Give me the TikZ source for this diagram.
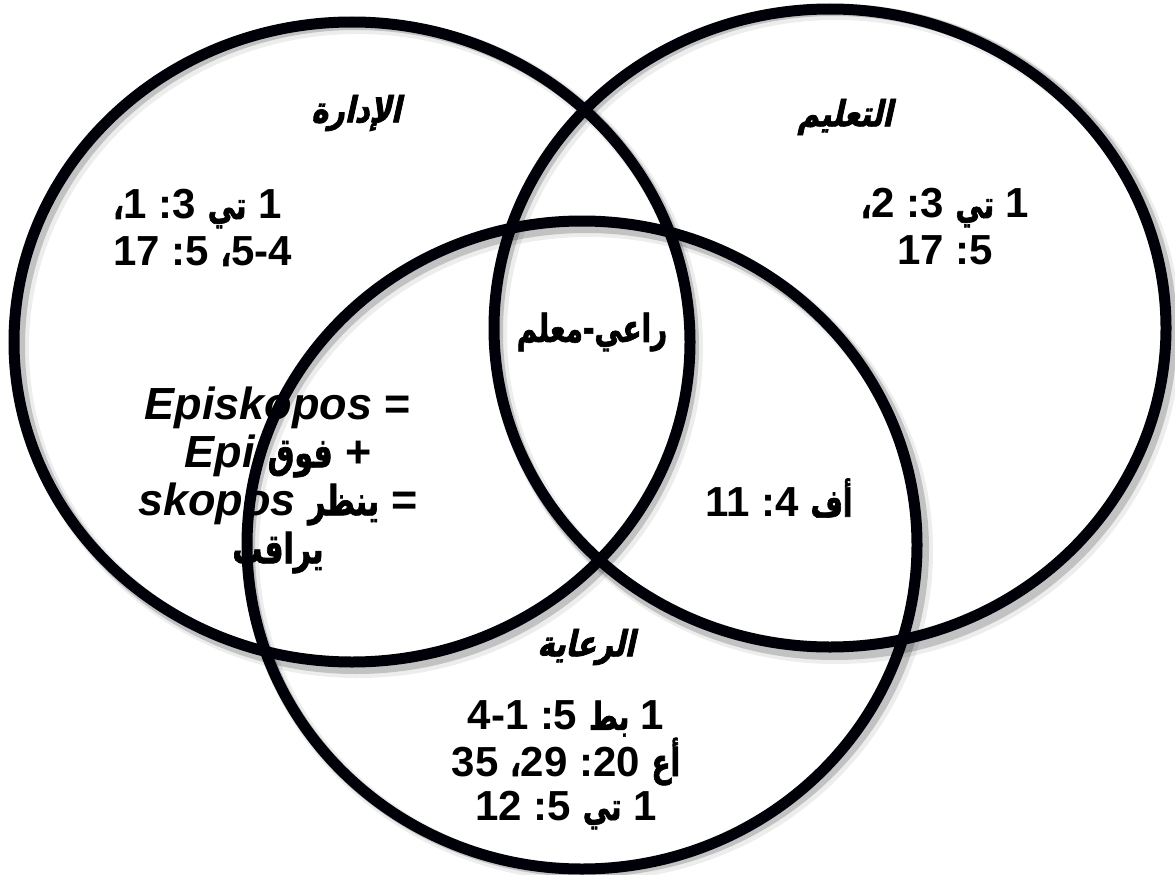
\documentclass[tikz,border=0pt]{standalone}
\usepackage{fontspec}
\setmainfont{Liberation Sans}
\newfontfamily\arabicfont[Script=Arabic,Scale=0.92,FakeStretch=0.72,FakeBold=1.6]{DejaVu Sans}
\newfontfamily\arabicslfont[Script=Arabic,FakeSlant=0.22,FakeStretch=0.8,FakeBold=2.2]{DejaVu Sans}
\TeXXeTstate=1
\newcommand\ar[1]{{\arabicfont\bfseries\beginR #1\endR}}
\newcommand\art[1]{{\arabicslfont\bfseries\beginR #1\endR}}
\begin{document}
\begin{tikzpicture}[x=1pt,y=-1pt,
  every node/.style={inner sep=0pt, text=black},
  reftext/.style={font=\bfseries\fontsize{42}{47}\selectfont, align=center},
  reftextl/.style={font=\bfseries\fontsize{42}{47}\selectfont, align=left},
  episktext/.style={font=\bfseries\fontsize{45}{48}\selectfont, align=center},
  caretext/.style={font=\bfseries\fontsize{42}{44}\selectfont, align=center},
  titletext/.style={font=\bfseries\fontsize{36}{38}\selectfont},
  ring/.style={line width=11pt, draw=black!97!blue},
  ringshadow/.style={line width=12pt, draw=black, opacity=0.18},
  ringshadowb/.style={line width=16pt, draw=black, opacity=0.07}]
\useasboundingbox (0,0) rectangle (1175,875);
\fill[white] (0,0) rectangle (1175,875);

% texts (drawn first: the rings pass over them)
\node[titletext] (tadmin) at (356,113) {\art{الإدارة}};
\node[reftextl, anchor=west] (radmin) at (113,228) {\ar{،}1 :3 \ar{تي} 1\\17 :5 \ar{،}5-4};
\node[titletext] (tteach) at (845,117) {\art{التعليم}};
\node[reftext] (rteach) at (945,227) {\ar{،}2 :3 \ar{تي} 1\\17 :5};
\node[reftext] (pastor) at (592,332) {\ar{راعي-معلم}};
\node[episktext] (episk) at (278,480) {\textit{Episkopos} =\\\textit{Epi} \ar{فوق} +\\\textit{skopos} \ar{ينظر} =\\\ar{يراقب}};
\node[reftext] (eph) at (779,498) {11 :4 \ar{أف}};
\node[titletext] (tcare) at (586,647) {\art{الرعاية}};
\node[caretext] (rcare) at (566,765) {4-1 :5 \ar{بط} 1\\35 \ar{،}29 :20 \ar{أع}\\12 :5 \ar{تي} 1};

% shadows
\foreach \cx/\cy in {352/342, 830/328, 582/545}{
  \draw[ringshadowb] (\cx+6,\cy+6) ellipse [x radius=337pt, y radius=322pt];
  \draw[ringshadow] (\cx+4,\cy+4) ellipse [x radius=337pt, y radius=322pt];
}
% rings
\draw[ring] (352,342) ellipse [x radius=338pt, y radius=320pt];
\draw[ring] (830,328) ellipse [x radius=336pt, y radius=319pt];
\draw[ring] (582,545) ellipse [x radius=335pt, y radius=324pt];
\end{tikzpicture}
\end{document}
